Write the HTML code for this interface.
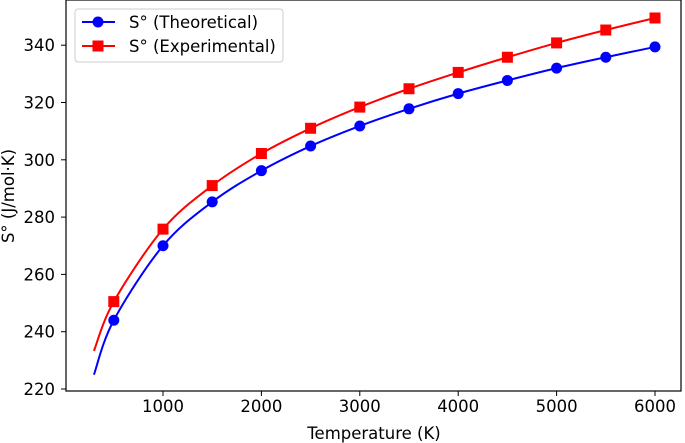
<!DOCTYPE html>
<html><head><meta charset="utf-8"><style>
html,body{margin:0;padding:0;background:#fff;}
svg{display:block;font-family:"DejaVu Sans","Liberation Sans",sans-serif;}
</style></head><body>
<svg id="chart" width="685" height="443" viewBox="0 0 685 443">
<g id="plot"></g>
<text x="374" y="439" font-size="16.5" text-anchor="middle">Temperature (K)</text>
<text transform="translate(14,196) rotate(-90)" font-size="16.5" text-anchor="middle">S° (J/mol·K)</text>
<g>
<rect x="75" y="9" width="208" height="53" rx="3" fill="#fff" stroke="#ccc"/>
<g>
<line x1="82" y1="22" x2="115" y2="22" stroke="#0000ff" stroke-width="2"/>
<circle cx="98" cy="22" r="5.5" fill="#0000ff"/>
<text x="129" y="28" font-size="16.5">S° (Theoretical)</text></g>
<g>
<line x1="82" y1="46" x2="115" y2="46" stroke="#ff0000" stroke-width="2"/>
<rect x="92.5" y="40.5" width="11" height="11" fill="#ff0000"/>
<text x="129" y="52" font-size="16.5">S° (Experimental)</text></g>
</g>
</svg>
<script>
const temps = [500,1000,1500,2000,2500,3000,3500,4000,4500,5000,5500,6000];
const theoretical = [244,270,285.3,296.2,304.8,311.8,317.8,323.1,327.7,332.0,335.8,339.4];
const experimental = [250.5,275.8,291.0,302.2,311.0,318.4,324.8,330.5,335.8,340.8,345.3,349.5];
const curveStartT = 298;
const theoreticalStart = 225;
const experimentalStart = 233.3;
const xTicks = [1000,2000,3000,4000,5000,6000];
const yTicks = [220,240,260,280,300,320,340];

const NS="http://www.w3.org/2000/svg";
const L=66,R=681,T=0,B=391;
const xs=t=>64.6+(t-0)*0.0984;
const ys=v=>389-(v-220)*2.865;
const g=document.getElementById('plot');
function el(n,a){const e=document.createElementNS(NS,n);for(const k in a)e.setAttribute(k,a[k]);g.appendChild(e);return e;}

const fr=el('rect',{x:L,y:T,width:R-L,height:B-T,fill:'none',stroke:'#000','stroke-width':1.2});


xTicks.forEach(t=>{
  const x=xs(t);
  const tk=el('line',{x1:x,y1:B,x2:x,y2:B+5,stroke:'#000'});
  
  
  const tx=el('text',{x:x,y:B+21,'font-size':16.5,'text-anchor':'middle'});
  tx.textContent=t;
  
  
});
yTicks.forEach(v=>{
  const y=ys(v);
  const tk=el('line',{x1:L-5,y1:y,x2:L,y2:y,stroke:'#000'});
  
  
  const tx=el('text',{x:L-11,y:y+6,'font-size':16.5,'text-anchor':'end'});
  tx.textContent=v;
  
  
});

function smoothPath(px){
  let d='M'+px[0][0]+','+px[0][1];
  for(let i=0;i<px.length-1;i++){
    const p0=px[i-1]||px[i],p1=px[i],p2=px[i+1],p3=px[i+2]||p2;
    const c1=[p1[0]+(p2[0]-p0[0])/6,p1[1]+(p2[1]-p0[1])/6];
    const c2=[p2[0]-(p3[0]-p1[0])/6,p2[1]-(p3[1]-p1[1])/6];
    d+=' C'+c1+' '+c2+' '+p2;
  }
  return d;
}
function series(vals,start,color,name,square){
  const pts=[[xs(curveStartT),ys(start)]].concat(temps.map((t,i)=>[xs(t),ys(vals[i])]));
  const p=el('path',{d:smoothPath(pts),fill:'none',stroke:color,'stroke-width':2});
  
  
  temps.forEach((t,i)=>{
    const x=xs(t),y=ys(vals[i]);
    let m;
    if(square) m=el('rect',{x:x-5.5,y:y-5.5,width:11,height:11,fill:color});
    else m=el('circle',{cx:x,cy:y,r:5.5,fill:color});
    
    
  });
}
series(theoretical,theoreticalStart,'#0000ff','theoretical',false);
series(experimental,experimentalStart,'#ff0000','experimental',true);
</script>
</body></html>
